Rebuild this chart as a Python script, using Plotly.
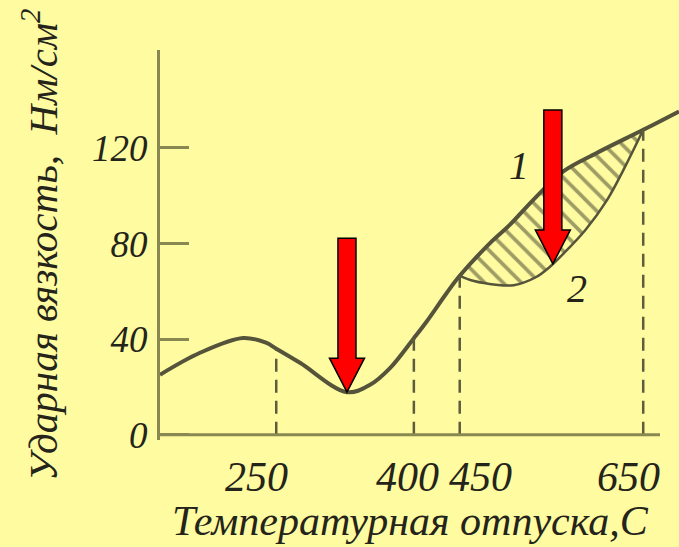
import numpy as np
import plotly.graph_objects as go

# Curve 1: impact toughness vs tempering temperature
temp_1 = [123.3, 166.9, 213.8, 238.8, 250, 275.9, 327.1, 352.2, 374.0, 400, 414.0,
          435.8, 450, 483.0, 504.8, 530.2, 562.9, 599.3, 650, 689]
tough_1 = [25.1, 34.3, 40.5, 38.5, 36.0, 30.1, 17.8, 20.9, 27.9, 40.4, 47.4,
           59.3, 66.5, 80.2, 87.9, 98.3, 110.2, 117.9, 127.6, 135.3]

# Curve 2: lower branch between 450 and 650 °C
temp_2 = [450, 465.6, 489.2, 508.8, 532.4, 548.0, 563.6, 587.2, 610.7, 630.4, 650]
tough_2 = [66.5, 64.3, 62.8, 62.6, 65.8, 70.2, 76.0, 85.8, 98.3, 112.3, 127.6]

x_ticks = [250, 400, 450, 650]
x_tick_shift = [-20, -6, 21, -15]   # label offsets in px
y_ticks = [0, 40, 80, 120]

BG = "#FFFBA0"
AXIS = "#8A8852"
CURVE = "#55533A"
TEXT = "#24241A"
SERIF = "Liberation Serif"

X_RANGE = [123.3, 689]
Y_RANGE = [-2.2, 161]

fig = go.Figure()

# lower branch
fig.add_trace(go.Scatter(
    x=temp_2, y=tough_2, mode="lines", line=dict(color=CURVE, width=2.5, shape="spline"),
    hoverinfo="skip", showlegend=False))

# hatched band between the two branches
seg = [(t, v) for t, v in zip(temp_1, tough_1) if temp_2[0] <= t <= temp_2[-1]]
fig.add_trace(go.Scatter(
    x=[s[0] for s in seg], y=[s[1] for s in seg], mode="lines",
    line=dict(width=0, shape="spline"), fill="tonexty",
    fillcolor="rgba(0,0,0,0)",
    fillpattern=dict(shape="\\", fgcolor="#3E3D2A", bgcolor="rgba(0,0,0,0)",
                     size=13, solidity=0.28),
    hoverinfo="skip", showlegend=False))

# main curve
fig.add_trace(go.Scatter(
    x=temp_1, y=tough_1, mode="lines", line=dict(color=CURVE, width=4, shape="spline"),
    hoverinfo="skip", showlegend=False))

shapes = []
# dashed drop lines from the curve to the axis
for t in x_ticks:
    top = float(np.interp(t, temp_1, tough_1))
    shapes.append(dict(type="line", xref="x", yref="y", x0=t, x1=t, y0=0, y1=top,
                       line=dict(color="#5E5C3E", width=2.5, dash="13px,8px")))

# horizontal axis line
shapes.append(dict(type="line", xref="paper", yref="y", x0=0, x1=500 / 519, y0=0, y1=0,
                   line=dict(color=AXIS, width=3)))

# red pointer arrows (pixel geometry anchored at the tip)
arrow_path = "M 0,0 L -17.5,34 L -9,34 L -9,154 L 9,154 L 9,34 L 17.5,34 Z"
i_min = int(np.argmin(tough_1))
arrow_tips = [(temp_1[i_min], tough_1[i_min]),
              (551.5, float(np.interp(551.5, temp_2, tough_2)))]
for tx, ty in arrow_tips:
    shapes.append(dict(type="path", xref="x", yref="y", xsizemode="pixel", ysizemode="pixel",
                       xanchor=tx, yanchor=ty, path=arrow_path,
                       fillcolor="#FF0000", line=dict(color="#000000", width=1.5),
                       layer="above"))

annotations = [
    dict(x=514.6, y=112.6, xref="x", yref="y", text="1", showarrow=False,
         font=dict(family=SERIF, size=40, color=TEXT, style="italic")),
    dict(x=577.8, y=61.1, xref="x", yref="y", text="2", showarrow=False,
         font=dict(family=SERIF, size=40, color=TEXT, style="italic")),
    dict(x=(410 - 160) / 519, y=(440 - 521) / 390, xref="paper", yref="paper",
         text="Температурная отпуска,С", showarrow=False, xanchor="center", yanchor="middle",
         font=dict(family=SERIF, size=42, color=TEXT, style="italic")),
    dict(x=(40 - 160) / 519, y=(440 - 245) / 390, xref="paper", yref="paper",
         text="Ударная вязкость,  Нм/см<sup>2</sup>", showarrow=False, textangle=-90,
         xanchor="center", yanchor="middle",
         font=dict(family=SERIF, size=41, color=TEXT, style="italic")),
]

# temperature labels under the axis
for t, dx in zip(x_ticks, x_tick_shift):
    annotations.append(dict(x=t, y=(440 - 477) / 390, xref="x", yref="paper", xshift=dx,
                            text=str(t), showarrow=False, xanchor="center", yanchor="middle",
                            font=dict(family=SERIF, size=42, color=TEXT, style="italic")))

fig.update_layout(
    width=679, height=547,
    margin=dict(l=160, r=0, t=50, b=107, pad=0),
    paper_bgcolor=BG, plot_bgcolor=BG,
    shapes=shapes, annotations=annotations,
    showlegend=False,
    xaxis=dict(range=X_RANGE, showticklabels=False, ticks="",
               showgrid=False, zeroline=False, showline=False),
    yaxis=dict(range=Y_RANGE, tickvals=y_ticks, ticktext=[str(v) for v in y_ticks],
               showgrid=False, zeroline=False, showline=True, linecolor=AXIS, linewidth=3,
               ticks="inside", ticklen=29, tickwidth=3, tickcolor=AXIS,
               ticklabelstandoff=2,
               tickfont=dict(family=SERIF, size=37, color=TEXT, style="italic")),
)

fig.write_html("out.html")
